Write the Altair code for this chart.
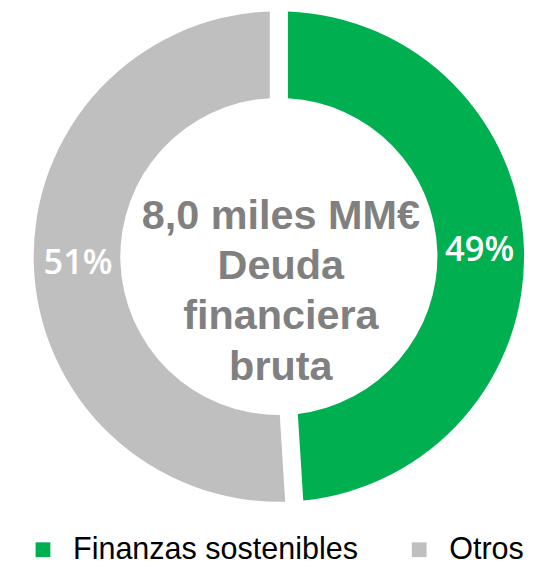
import altair as alt
import pandas as pd

categories = ["Finanzas sostenibles", "Otros"]
shares = [49, 51]
labels = ["49%", "51%"]
order = [1, 2]
colors = ["#00B050", "#BFBFBF"]
center_lines = ["8,0 miles MM€", "Deuda", "financiera", "bruta"]

df = pd.DataFrame({"cat": categories, "val": shares, "lab": labels, "ord": order})

CX, CY = 275, 248

base = alt.Chart(df).encode(
    theta=alt.Theta("val:Q", stack=True),
    order=alt.Order("ord:Q"),
    x=alt.value(CX),
    y=alt.value(CY),
)

arcs = base.mark_arc(outerRadius=249, innerRadius=161, padAngle=0.062).encode(
    color=alt.Color(
        "cat:N",
        scale=alt.Scale(domain=categories, range=colors),
        legend=alt.Legend(
            title=None,
            orient="none",
            legendX=20,
            legendY=530,
            direction="horizontal",
            columns=2,
            columnPadding=46,
            symbolType="square",
            symbolSize=225,
            symbolStrokeWidth=0,
            labelFontSize=31,
            labelFont="Liberation Sans",
            labelColor="#000000",
            labelOffset=15,
            labelLimit=0,
            padding=0,
        ),
    )
)

pct = base.mark_text(
    radius=204, font="Open Sans", fontSize=35, fontWeight=600, color="white"
).encode(text="lab:N")

center = alt.Chart(pd.DataFrame({"t": ["\n".join(center_lines)]})).mark_text(
    font="Liberation Sans",
    fontSize=42,
    fontWeight="bold",
    color="#808080",
    lineBreak="\n",
    lineHeight=51,
    align="center",
    baseline="alphabetic",
).encode(text="t:N", x=alt.value(277), y=alt.value(220))

chart = (
    alt.layer(arcs, pct, center)
    .properties(
        width=530,
        height=559,
        padding=0,
        autosize=alt.AutoSizeParams(type="none"),
    )
    .configure_view(stroke=None)
)

chart.save("out.html", embed_options={"renderer": "svg", "actions": False})
